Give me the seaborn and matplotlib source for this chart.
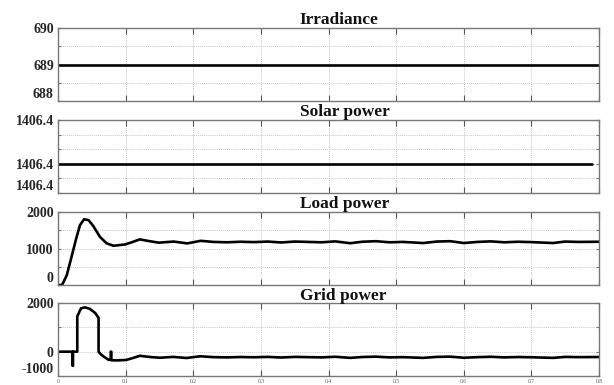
import matplotlib
matplotlib.use("Agg")
import matplotlib.pyplot as plt
import seaborn as sns
import pandas as pd
from matplotlib.ticker import FixedLocator, FixedFormatter

# ---------------- data ----------------
irr_t = [0.0, 0.8]
irr_v = [689.0, 689.0]

solar_t = [0.0, 0.79]
solar_v = [1406.400, 1406.400]

load_t = [0, 0.006, 0.013, 0.020, 0.027, 0.0325, 0.0385, 0.045, 0.052, 0.062,
          0.072, 0.082, 0.099, 0.109, 0.121, 0.134, 0.149, 0.171, 0.191, 0.211,
          0.23, 0.25, 0.27, 0.29, 0.31, 0.33, 0.35, 0.37, 0.39, 0.41, 0.432,
          0.45, 0.47, 0.49, 0.51, 0.54, 0.56, 0.58, 0.60, 0.62, 0.64, 0.66,
          0.68, 0.70, 0.732, 0.75, 0.77, 0.80]
load_v = [0, 0, 270, 770, 1280, 1640, 1800, 1780, 1620, 1320,
          1140, 1075, 1110, 1170, 1250, 1205, 1160, 1190, 1140, 1210,
          1180, 1170, 1185, 1175, 1190, 1165, 1190, 1180, 1170, 1195, 1145,
          1185, 1200, 1170, 1180, 1150, 1190, 1200, 1150, 1180, 1195, 1170,
          1185, 1175, 1150, 1190, 1180, 1185]

grid_t = [0, 0.0215, 0.0215, 0.0222, 0.0222, 0.0285, 0.0285, 0.034, 0.040,
          0.047, 0.055, 0.060, 0.060, 0.063, 0.067, 0.0745, 0.078, 0.078,
          0.0788, 0.0788, 0.087, 0.101, 0.111, 0.121, 0.136, 0.151, 0.17,
          0.19, 0.21, 0.23, 0.25, 0.27, 0.29, 0.31, 0.33, 0.35, 0.37, 0.39,
          0.41, 0.432, 0.45, 0.47, 0.49, 0.51, 0.54, 0.56, 0.58, 0.60, 0.62,
          0.64, 0.66, 0.68, 0.70, 0.732, 0.75, 0.77, 0.80]
grid_v = [0, 0, -580, -580, 0, 0, 1450, 1780, 1820,
          1760, 1590, 1390, 0, -100, -190, -330, -340, 0,
          0, -350, -360, -340, -260, -170, -220, -250, -215,
          -260, -190, -225, -235, -220, -230, -215, -240, -215, -225, -235,
          -210, -255, -220, -205, -235, -225, -255, -215, -205, -250, -225,
          -210, -235, -220, -230, -255, -215, -225, -220]

titles = ["Irradiance", "Solar power", "Load power", "Grid power"]

irr_ticks = [688, 688.5, 689, 689.5, 690]
irr_labels = ["688", "", "689", "", "690"]
solar_ticks = [1406.398, 1406.399, 1406.400, 1406.401, 1406.402, 1406.403]
solar_labels = ["1406.4", "", "1406.4", "", "", "1406.4"]
load_ticks = [0, 500, 1000, 1500, 2000]
load_labels = ["0", "", "1000", "", "2000"]
grid_ticks = [-1000, 0, 1000, 2000]
grid_labels = ["-1000", "0", "", "2000"]

x_ticks = [0, 0.1, 0.2, 0.3, 0.4, 0.5, 0.6, 0.7, 0.8]
x_labels = ["0", "0.1", "0.2", "0.3", "0.4", "0.5", "0.6", "0.7", "0.8"]

# ---------------- plotting ----------------
sns.set_style("white")
plt.rcParams["font.family"] = ["Liberation Serif", "DejaVu Serif"]

fig = plt.figure(figsize=(6.14, 3.85), dpi=100)
W, H = 614, 385
left, right = 58, 599
panels_px = [(28, 101), (120, 193), (212, 285), (303, 376)]

series = [
    (irr_t, irr_v, (688, 690), irr_ticks, irr_labels),
    (solar_t, solar_v, (1406.398, 1406.403), solar_ticks, solar_labels),
    (load_t, load_v, (0, 2000), load_ticks, load_labels),
    (grid_t, grid_v, (-1000, 2000), grid_ticks, grid_labels),
]

for i, ((top, bot), (t, v, ylim, yt, yl)) in enumerate(zip(panels_px, series)):
    ax = fig.add_axes([left / W, 1 - bot / H, (right - left) / W, (bot - top) / H])
    df = pd.DataFrame({"t": t, "v": v})
    sns.lineplot(data=df, x="t", y="v", ax=ax, color="black", linewidth=1.9,
                 estimator=None, sort=False)
    ax.set_xlim(0, 0.8)
    ax.set_ylim(*ylim)
    ax.set_xlabel("")
    ax.set_ylabel("")
    ax.xaxis.set_major_locator(FixedLocator(x_ticks))
    ax.yaxis.set_major_locator(FixedLocator(yt))
    ax.yaxis.set_major_formatter(FixedFormatter(yl))
    if i == 3:
        ax.xaxis.set_major_formatter(FixedFormatter(x_labels))
    else:
        ax.xaxis.set_major_formatter(FixedFormatter([""] * len(x_ticks)))
    ax.grid(True, linestyle=(0, (1, 1.5)), color="#b0b0b0", linewidth=0.6)
    ax.tick_params(axis="x", direction="in", top=True, bottom=True, length=4,
                   width=0.8, color="#555555", labelsize=4, pad=2,
                   labelcolor="#555555")
    ax.tick_params(axis="y", direction="in", left=True, right=True, length=2.5,
                   width=0.8, color="#777777", labelsize=10, pad=3)
    for lab in ax.get_yticklabels():
        lab.set_fontweight("bold")
    ylabs = [lab for lab in ax.get_yticklabels() if lab.get_text()]
    # lowest visible label sits slightly above the bottom edge
    ax.get_yticklabels()[0].set_va("bottom")
    for sp in ax.spines.values():
        sp.set_color("#777777")
        sp.set_linewidth(1.0)
    ax.text(0.447, 1 + 3.5 / (bot - top), titles[i], transform=ax.transAxes,
            ha="left", va="baseline", fontsize=12.5, fontweight="bold",
            color="#111111")

fig.savefig("out.png", dpi=100)
